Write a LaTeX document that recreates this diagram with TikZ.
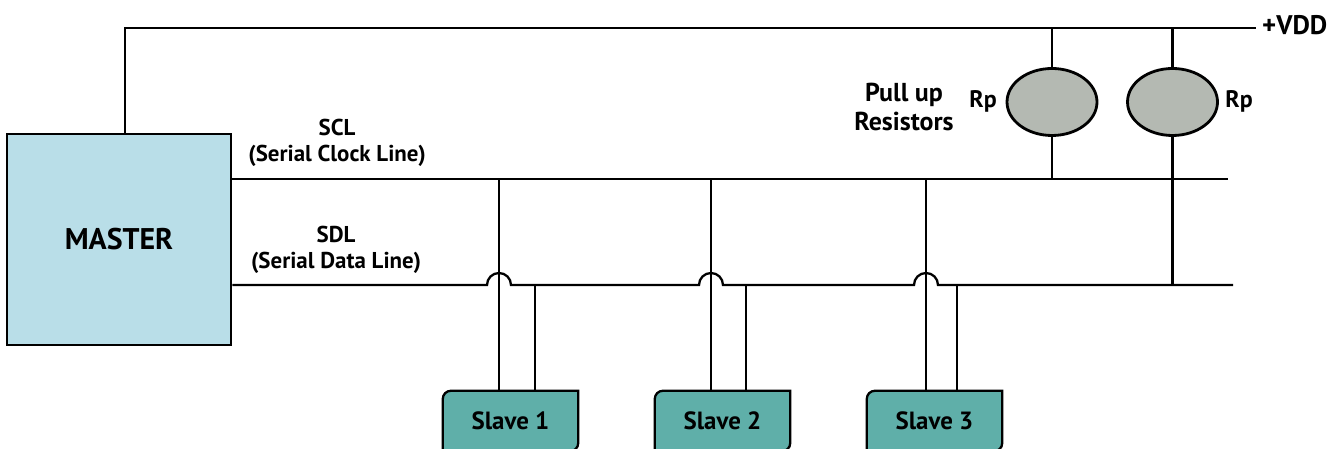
\documentclass[tikz,border=0pt]{standalone}
\usepackage{fontspec}
\setmainfont{PT Sans}
\usetikzlibrary{shapes.geometric,backgrounds,calc}
\definecolor{masterfill}{HTML}{B9DEE8}
\definecolor{slavefill}{HTML}{5FAFA9}
\definecolor{resfill}{HTML}{B4B9B2}
\begin{document}
\begin{tikzpicture}[x=1bp,y=1bp,
  wire/.style={line width=2.3bp,black},
  lbl/.style={font=\bfseries\fontsize{23}{26}\selectfont,align=center,inner sep=0},
  masterbox/.style={draw,line width=2.6bp,fill=masterfill,minimum width=224bp,minimum height=211bp,inner sep=0,font=\bfseries\fontsize{30}{36}\selectfont},
  slavebox/.style={minimum width=135bp,minimum height=60bp,inner sep=0,font=\bfseries\fontsize{25}{30}\selectfont},
  slaveshape/.style={draw,line width=2.3bp,fill=slavefill},
  resbox/.style={ellipse,draw,line width=2.8bp,fill=resfill,minimum width=90bp,minimum height=67bp,inner sep=0}]
\useasboundingbox (0,0) rectangle (1341,449);

% master
\node[masterbox] (master) at (119,209.5) {MASTER};

% line end points
\coordinate (vddL) at (125,421);
\coordinate (vddR) at (1256,421);
\coordinate (sclR) at (1228,270);
\coordinate (sdlR) at (1233,164);

% slaves
\node[slavebox] (s1) at (510.5,28) {Slave 1};
\node[slavebox] (s2) at (722.5,28) {Slave 2};
\node[slavebox] (s3) at (934.5,28) {Slave 3};
\begin{pgfonlayer}{background}
\foreach \s in {s1,s2,s3}{
  \filldraw[slaveshape] (\s.south west) -- ($(\s.north west)+(0,-8)$) arc[start angle=180,end angle=90,radius=8]
    -- (\s.north east) -- ($(\s.south east)+(0,8)$) arc[start angle=0,end angle=-90,radius=8] -- cycle;
}
\end{pgfonlayer}

% resistors
\node[resbox] (r1) at (1052,347) {};
\node[resbox] (r2) at (1172.5,347) {};

% VDD rail
\draw[wire] (master.north -| vddL) -- (vddL) -- (vddR);
\node[lbl,anchor=west,font=\bfseries\fontsize{27}{30}\selectfont] (vdd) at (1262,424) {+VDD};

% SCL
\draw[wire] (master.east |- sclR) -- (sclR);

% tap points
\coordinate (t1c) at (499,270);  \coordinate (t1d) at (535,164);
\coordinate (t2c) at (711,270);  \coordinate (t2d) at (746,164);
\coordinate (t3c) at (926,270);  \coordinate (t3d) at (957,164);

% SDL with hops
\draw[wire] (master.east |- sdlR) -- ($(t1c|-sdlR)+(-12,0)$) arc[start angle=180,end angle=0,radius=12]
  -- ($(t2c|-sdlR)+(-12,0)$) arc[start angle=180,end angle=0,radius=12]
  -- ($(t3c|-sdlR)+(-12,0)$) arc[start angle=180,end angle=0,radius=12]
  -- (sdlR);

% slave taps
\foreach \s/\c/\d in {s1/t1c/t1d,s2/t2c/t2d,s3/t3c/t3d}{
  \draw[wire] (\c) -- (\c |- \s.north);
  \draw[wire] (\d) -- (\d |- \s.north);
}

% resistor connections
\draw[wire] (r1.north |- vddR) -- (r1.north);
\draw[wire] (r1.south) -- (r1.south |- sclR);
\draw[wire] (r2.north |- vddR) -- (r2.north);
\draw[wire] (r2.south) -- (r2.south |- sdlR);

% labels
\node[lbl] (scl) at (337,306) {SCL\\(Serial Clock Line)};
\node[lbl] (sdl) at (336,199) {SDL\\(Serial Data Line)};
\node[lbl,font=\bfseries\fontsize{26}{30}\selectfont] (pullup) at (904,342) {Pull up\\Resistors};
\node[lbl,font=\bfseries\fontsize{24}{30}\selectfont] (rp1) at (983,348) {Rp};
\node[lbl,font=\bfseries\fontsize{24}{30}\selectfont] (rp2) at (1239,348) {Rp};
\end{tikzpicture}
\end{document}
